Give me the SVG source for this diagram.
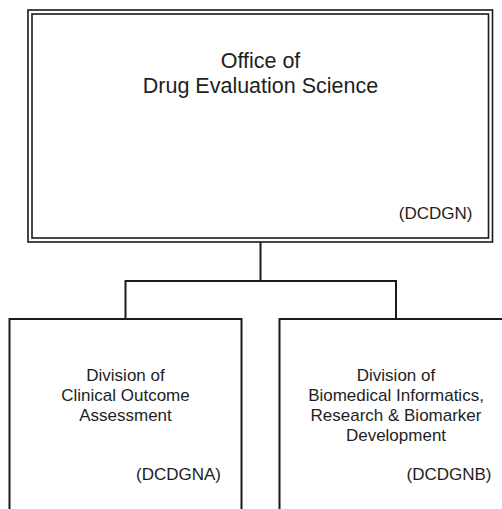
<svg xmlns="http://www.w3.org/2000/svg" width="502" height="509" viewBox="0 0 502 509">
  <style>
    .box { fill: #ffffff; stroke: #1a1a1a; stroke-width: 2; }
    .dbl { fill: none; stroke: #1a1a1a; stroke-width: 1.6; }
    .conn { fill: none; stroke: #1a1a1a; stroke-width: 2; }
    text { font-family: "Liberation Sans", Arial, sans-serif; fill: #1e1e1e; }
    .title { font-size: 21.5px; text-anchor: middle; }
    .lbl { font-size: 17px; text-anchor: middle; }
    .code { font-size: 17px; text-anchor: end; }
  </style>
  <rect width="502" height="509" fill="#ffffff"/>
  <g id="connectors">
    <path class="conn" d="M260.5,242 V281 M125.5,281 H396 M125.5,280 V319 M396,280 V319"/>
  </g>
  <g id="node-dcdgn">
    <rect x="28" y="10" width="464.5" height="232" fill="#ffffff" class="dbl"/>
    <rect x="32" y="14" width="456.5" height="224" class="dbl"/>
    <text class="title" x="260.5" y="68">Office of</text>
    <text class="title" x="260.5" y="93">Drug Evaluation Science</text>
    <text class="code" x="472.5" y="219">(DCDGN)</text>
  </g>
  <g id="node-dcdgna">
    <rect class="box" x="9.5" y="319" width="232" height="200"/>
    <text class="lbl" x="125.5" y="380.5">Division of</text>
    <text class="lbl" x="125.5" y="400.5">Clinical Outcome</text>
    <text class="lbl" x="125.5" y="420.5">Assessment</text>
    <text class="code" x="221" y="480">(DCDGNA)</text>
  </g>
  <g id="node-dcdgnb">
    <rect class="box" x="279.5" y="319" width="233" height="200"/>
    <text class="lbl" x="396" y="380.5">Division of</text>
    <text class="lbl" x="396" y="400.5">Biomedical Informatics,</text>
    <text class="lbl" x="396" y="420.5">Research &amp; Biomarker</text>
    <text class="lbl" x="396" y="440.5">Development</text>
    <text class="code" x="491.5" y="480">(DCDGNB)</text>
  </g>
</svg>
